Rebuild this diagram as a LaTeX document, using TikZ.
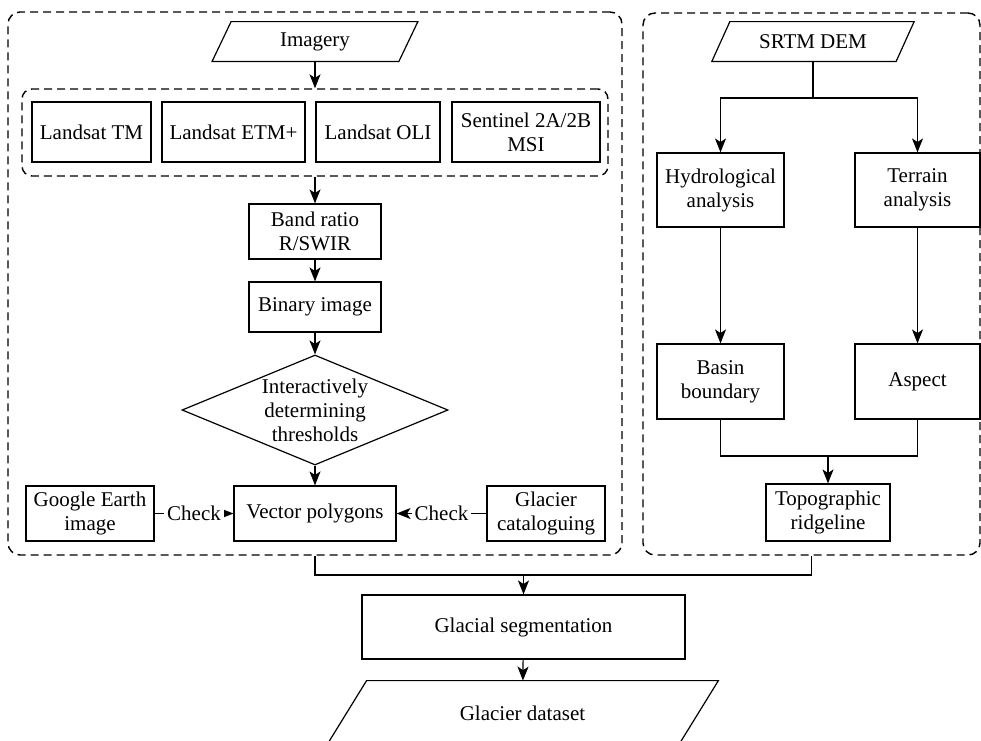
\documentclass[tikz,border=0pt]{standalone}
\usepackage{fontspec}
\setmainfont{Liberation Serif}
\usetikzlibrary{shapes.geometric,arrows.meta}

\begin{document}
\begin{tikzpicture}[x=0.5pt,y=-0.5pt,
  font=\fontsize{10.5}{12}\selectfont,
  proc/.style={draw,rectangle,align=center,inner sep=0pt,line width=0.6pt},
  io/.style={rectangle,align=center,inner sep=0pt},
  decide/.style={draw,diamond,aspect=2.42,align=center,inner sep=0pt,line width=0.6pt},
  group/.style={draw,dash pattern=on 4pt off 2.5pt,rounded corners=6pt,line width=0.7pt},
  link/.style={line width=0.6pt},
  flow/.style={link,-{Stealth[length=7pt,width=5.5pt,inset=1.8pt]}},
  check/.style={fill=white,inner sep=1.5pt}]
\useasboundingbox (0,0) rectangle (981,740);
\clip (0,0) rectangle (981,740);

\node(leftbox)  [group,minimum width=307pt,minimum height=271.5pt] at (315,283.5) {};
\node(rightbox) [group,minimum width=168.5pt,minimum height=271pt] at (811.5,284) {};
\node(sensors)  [group,rounded corners=5pt,minimum width=293pt,minimum height=43.5pt] at (315,132.5) {};

\node(imagery)  [io,minimum width=93pt,minimum height=19.5pt] at (315,41.5) {Imagery};
\node(tm)       [proc,minimum width=59.5pt,minimum height=30pt] at (91.5,132) {Landsat TM};
\node(etm)      [proc,minimum width=71.5pt,minimum height=30pt] at (233.5,132) {Landsat ETM+};
\node(oli)      [proc,minimum width=62pt,minimum height=30pt] at (378,132) {Landsat OLI};
\node(msi)      [proc,minimum width=74pt,minimum height=30pt] at (526,132) {Sentinel 2A/2B\\MSI};
\node(band)     [proc,minimum width=66pt,minimum height=27.5pt] at (315,231.5) {Band ratio\\R/SWIR};
\node(binary)   [proc,minimum width=66pt,minimum height=25pt] at (315,307) {Binary image};
\node(thresh)   [decide,minimum width=133pt,minimum height=55pt] at (315,410) {Interactively\\determining\\thresholds};
\node(vector)   [proc,minimum width=81pt,minimum height=27.5pt] at (315,513.5) {Vector polygons};
\node(google)   [proc,minimum width=64pt,minimum height=27.5pt] at (90,513.5) {Google Earth\\image};
\node(catalog)  [proc,minimum width=59pt,minimum height=27.5pt] at (546,513.5) {Glacier\\cataloguing};

\node(srtm)     [io,minimum width=91.75pt,minimum height=19.5pt] at (813,41.5) {SRTM DEM};
\node(hydro)    [proc,minimum width=63.5pt,minimum height=37pt] at (720.5,190) {Hydrological\\analysis};
\node(terrain)  [proc,minimum width=62.5pt,minimum height=37pt] at (917.5,190) {Terrain\\analysis};
\node(basin)    [proc,minimum width=63.5pt,minimum height=37.5pt] at (720.5,381.5) {Basin\\boundary};
\node(aspect)   [proc,minimum width=62.5pt,minimum height=37.5pt] at (917.5,381.5) {Aspect};
\node(ridge)    [proc,minimum width=62pt,minimum height=28.5pt] at (828,512.5) {Topographic\\ridgeline};

\node(seg)      [proc,minimum width=161.5pt,minimum height=32pt] at (523.5,627) {Glacial segmentation};
\node(dataset)  [io,minimum width=175.5pt,minimum height=32pt] at (522.5,713) {Glacier dataset};

\draw[link] ([xshift=-4.75pt]imagery.south west) -- ([xshift=4.75pt]imagery.north west)
  -- ([xshift=4.75pt]imagery.north east) -- ([xshift=-4.75pt]imagery.south east) -- cycle;
\draw[link] ([xshift=-4.5pt]srtm.south west) -- ([xshift=4.5pt]srtm.north west)
  -- ([xshift=4.5pt]srtm.north east) -- ([xshift=-4.5pt]srtm.south east) -- cycle;
\draw[link] ([xshift=-10pt]dataset.south west) -- ([xshift=10pt]dataset.north west)
  -- ([xshift=10pt]dataset.north east) -- ([xshift=-10pt]dataset.south east) -- cycle;

\coordinate(fork)  at (813,98);
\coordinate(join)  at (828,456);
\coordinate(merge) at (523.5,575);

\draw[flow] (imagery) -- (sensors);
\draw[flow] (sensors) -- (band);
\draw[flow] (band) -- (binary);
\draw[flow] (binary) -- (thresh);
\draw[flow] (thresh) -- (vector);
\draw[flow] (google) -- node[check] {Check} (vector);
\draw[flow] (catalog) -- node[check] {Check} (vector);

\draw[link] (srtm) -- (fork);
\draw[flow] (fork) -| (hydro);
\draw[flow] (fork) -| (terrain);
\draw[flow] (hydro) -- (basin);
\draw[flow] (terrain) -- (aspect);
\draw[link] (basin) |- (join) -| (aspect);
\draw[flow] (join) -- (ridge);

\draw[link] (leftbox.south) |- (merge) -| (rightbox.south);
\draw[flow] (merge) -- (seg);
\draw[flow] (seg) -- (dataset);
\end{tikzpicture}
\end{document}
